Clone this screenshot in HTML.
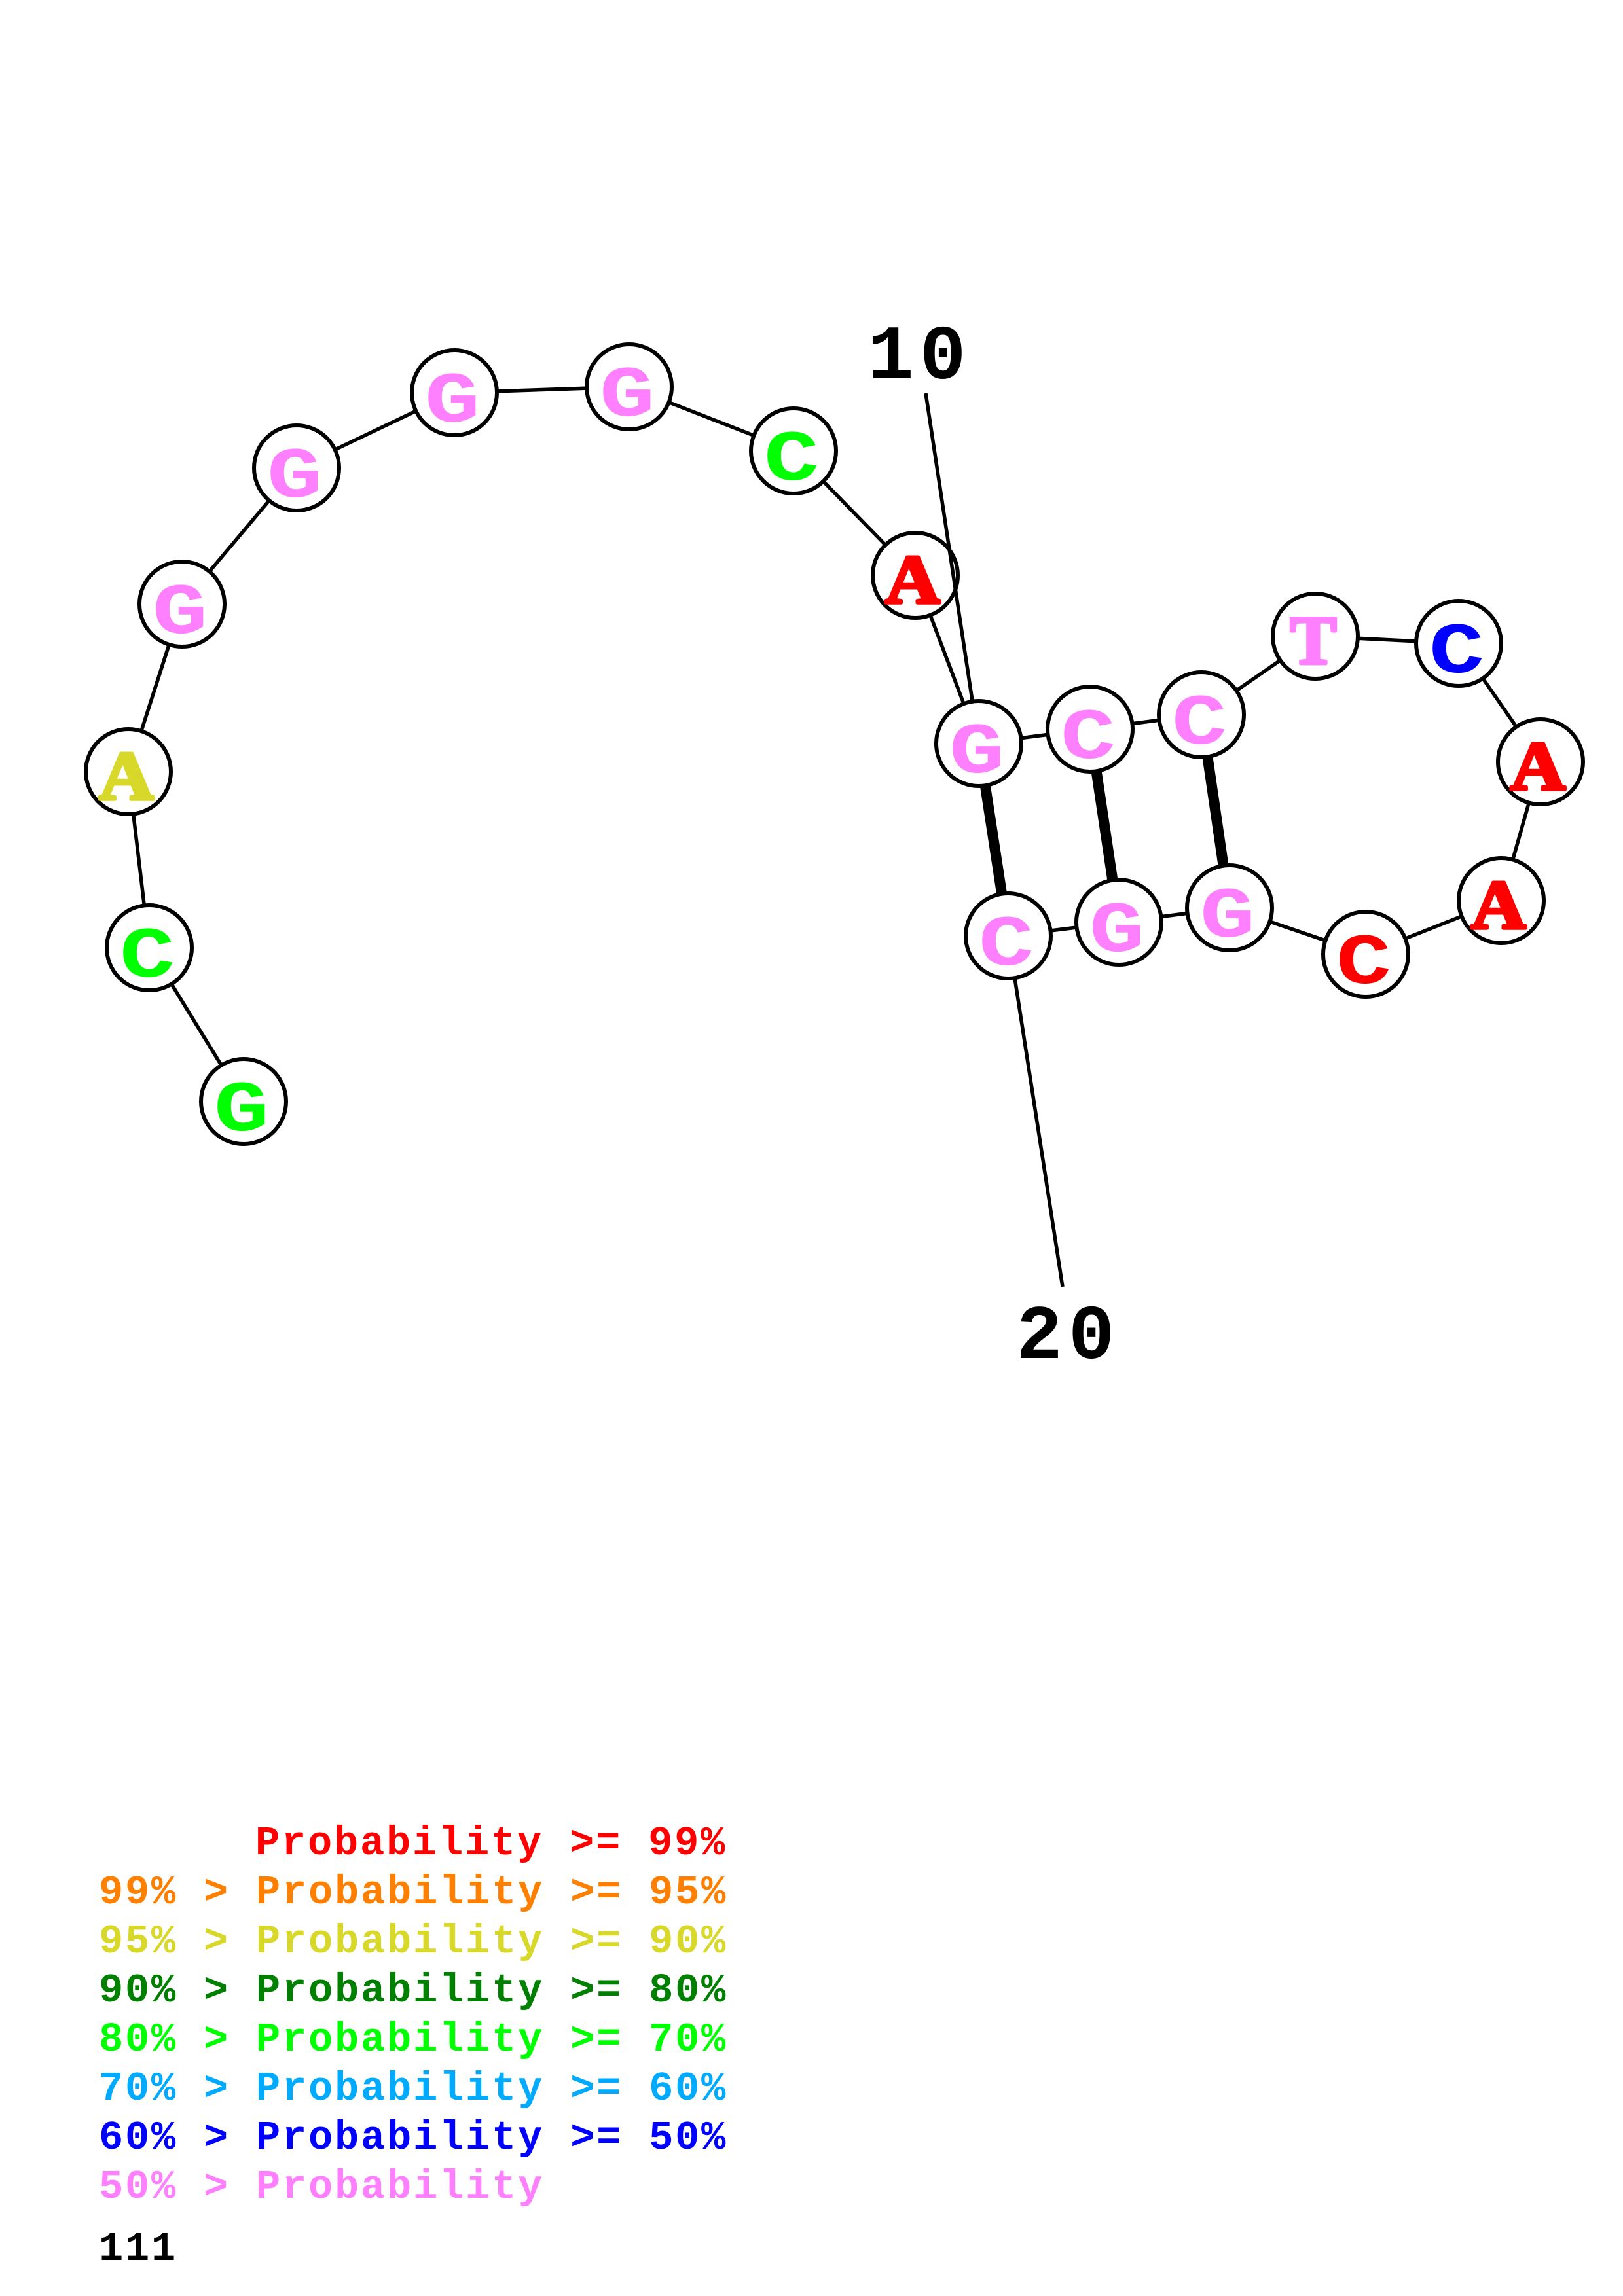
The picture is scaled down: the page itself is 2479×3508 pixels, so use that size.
<!DOCTYPE html>
<html><head><meta charset="utf-8"><style>html,body{margin:0;padding:0;background:#fff}svg{display:block}text{font-family:"Liberation Mono",monospace;font-weight:bold}text.s{font-family:"Liberation Serif",serif;font-size:106px;stroke-width:5;stroke-linejoin:round}</style></head>
<body>
<svg xmlns="http://www.w3.org/2000/svg" width="2479" height="3508" viewBox="0 0 2479 3508">
<rect width="2479" height="3508" fill="#fff"/>
<g stroke="#000" stroke-width="5.5" fill="none">
<polyline points="372,1683 228,1448 196,1179 278,923 453,715 694,600 961,591 1212,689 1398,879 1495,1136 1665,1114 1835,1092 2009,972 2228,983 2353,1164 2293,1376 2086,1458 1878,1387 1709,1409 1540,1430"/>
<line x1="1540" y1="1430" x2="1623" y2="1966"/>
</g>
<g stroke="#000" stroke-width="16">
<line x1="1495" y1="1136" x2="1540" y2="1430"/>
<line x1="1665" y1="1114" x2="1709" y2="1409"/>
<line x1="1835" y1="1092" x2="1878" y2="1387"/>
</g>
<g fill="#fff" stroke="#000" stroke-width="6">
<circle cx="372" cy="1683" r="65"/><circle cx="228" cy="1448" r="65"/><circle cx="196" cy="1179" r="65"/><circle cx="278" cy="923" r="65"/><circle cx="453" cy="715" r="65"/><circle cx="694" cy="600" r="65"/><circle cx="961" cy="591" r="65"/><circle cx="1212" cy="689" r="65"/><circle cx="1398" cy="879" r="65"/>
<line x1="1414" y1="601" x2="1495" y2="1136" stroke-width="5.5"/>
<circle cx="1495" cy="1136" r="65"/><circle cx="1665" cy="1114" r="65"/><circle cx="1835" cy="1092" r="65"/><circle cx="2009" cy="972" r="65"/><circle cx="2228" cy="983" r="65"/><circle cx="2353" cy="1164" r="65"/><circle cx="2293" cy="1376" r="65"/><circle cx="2086" cy="1458" r="65"/><circle cx="1878" cy="1387" r="65"/><circle cx="1709" cy="1409" r="65"/><circle cx="1540" cy="1430" r="65"/>
</g>
<g font-size="110" text-anchor="middle">
<text transform="translate(369,1727) scale(1.28,1)" fill="#00ff00">G</text>
<text transform="translate(225,1492) scale(1.28,1)" fill="#00ff00">C</text>
<text class="s" transform="translate(193,1221) scale(1.1,1)" fill="#d8d82b" stroke="#d8d82b">A</text>
<text transform="translate(275,967) scale(1.28,1)" fill="#ff80ff">G</text>
<text transform="translate(450,759) scale(1.28,1)" fill="#ff80ff">G</text>
<text transform="translate(691,644) scale(1.28,1)" fill="#ff80ff">G</text>
<text transform="translate(958,635) scale(1.28,1)" fill="#ff80ff">G</text>
<text transform="translate(1209,733) scale(1.28,1)" fill="#00ff00">C</text>
<text class="s" transform="translate(1394,921) scale(1.1,1)" fill="#ff0000" stroke="#ff0000">A</text>
<text transform="translate(1492,1180) scale(1.28,1)" fill="#ff80ff">G</text>
<text transform="translate(1662,1158) scale(1.28,1)" fill="#ff80ff">C</text>
<text transform="translate(1832,1136) scale(1.28,1)" fill="#ff80ff">C</text>
<text class="s" transform="translate(2006,1014)" fill="#ff80ff" stroke="#ff80ff">T</text>
<text transform="translate(2225,1027) scale(1.28,1)" fill="#0000ff">C</text>
<text class="s" transform="translate(2349,1206) scale(1.1,1)" fill="#ff0000" stroke="#ff0000">A</text>
<text class="s" transform="translate(2289,1418) scale(1.1,1)" fill="#ff0000" stroke="#ff0000">A</text>
<text transform="translate(2083,1502) scale(1.28,1)" fill="#ff0000">C</text>
<text transform="translate(1875,1431) scale(1.28,1)" fill="#ff80ff">G</text>
<text transform="translate(1706,1453) scale(1.28,1)" fill="#ff80ff">G</text>
<text transform="translate(1537,1474) scale(1.28,1)" fill="#ff80ff">C</text>
</g>
<g font-size="118" fill="#000">
<text x="1325" y="578" letter-spacing="9">10</text>
<text x="1552" y="2075" letter-spacing="9">20</text>
</g>
<g font-size="62" letter-spacing="2.8" xml:space="preserve">
<text x="390" y="2833" fill="#ff0000">Probability &gt;= 99%</text>
<text x="151" y="2908" fill="#ff8000">99% &gt; Probability &gt;= 95%</text>
<text x="151" y="2983" fill="#d8d82b">95% &gt; Probability &gt;= 90%</text>
<text x="151" y="3058" fill="#008000">90% &gt; Probability &gt;= 80%</text>
<text x="151" y="3133" fill="#00ff00">80% &gt; Probability &gt;= 70%</text>
<text x="151" y="3208" fill="#00aaff">70% &gt; Probability &gt;= 60%</text>
<text x="151" y="3283" fill="#0000ff">60% &gt; Probability &gt;= 50%</text>
<text x="151" y="3358" fill="#ff80ff">50% &gt; Probability</text>
<text x="151" y="3453" fill="#000">111</text>
</g>
</svg>
</body></html>
